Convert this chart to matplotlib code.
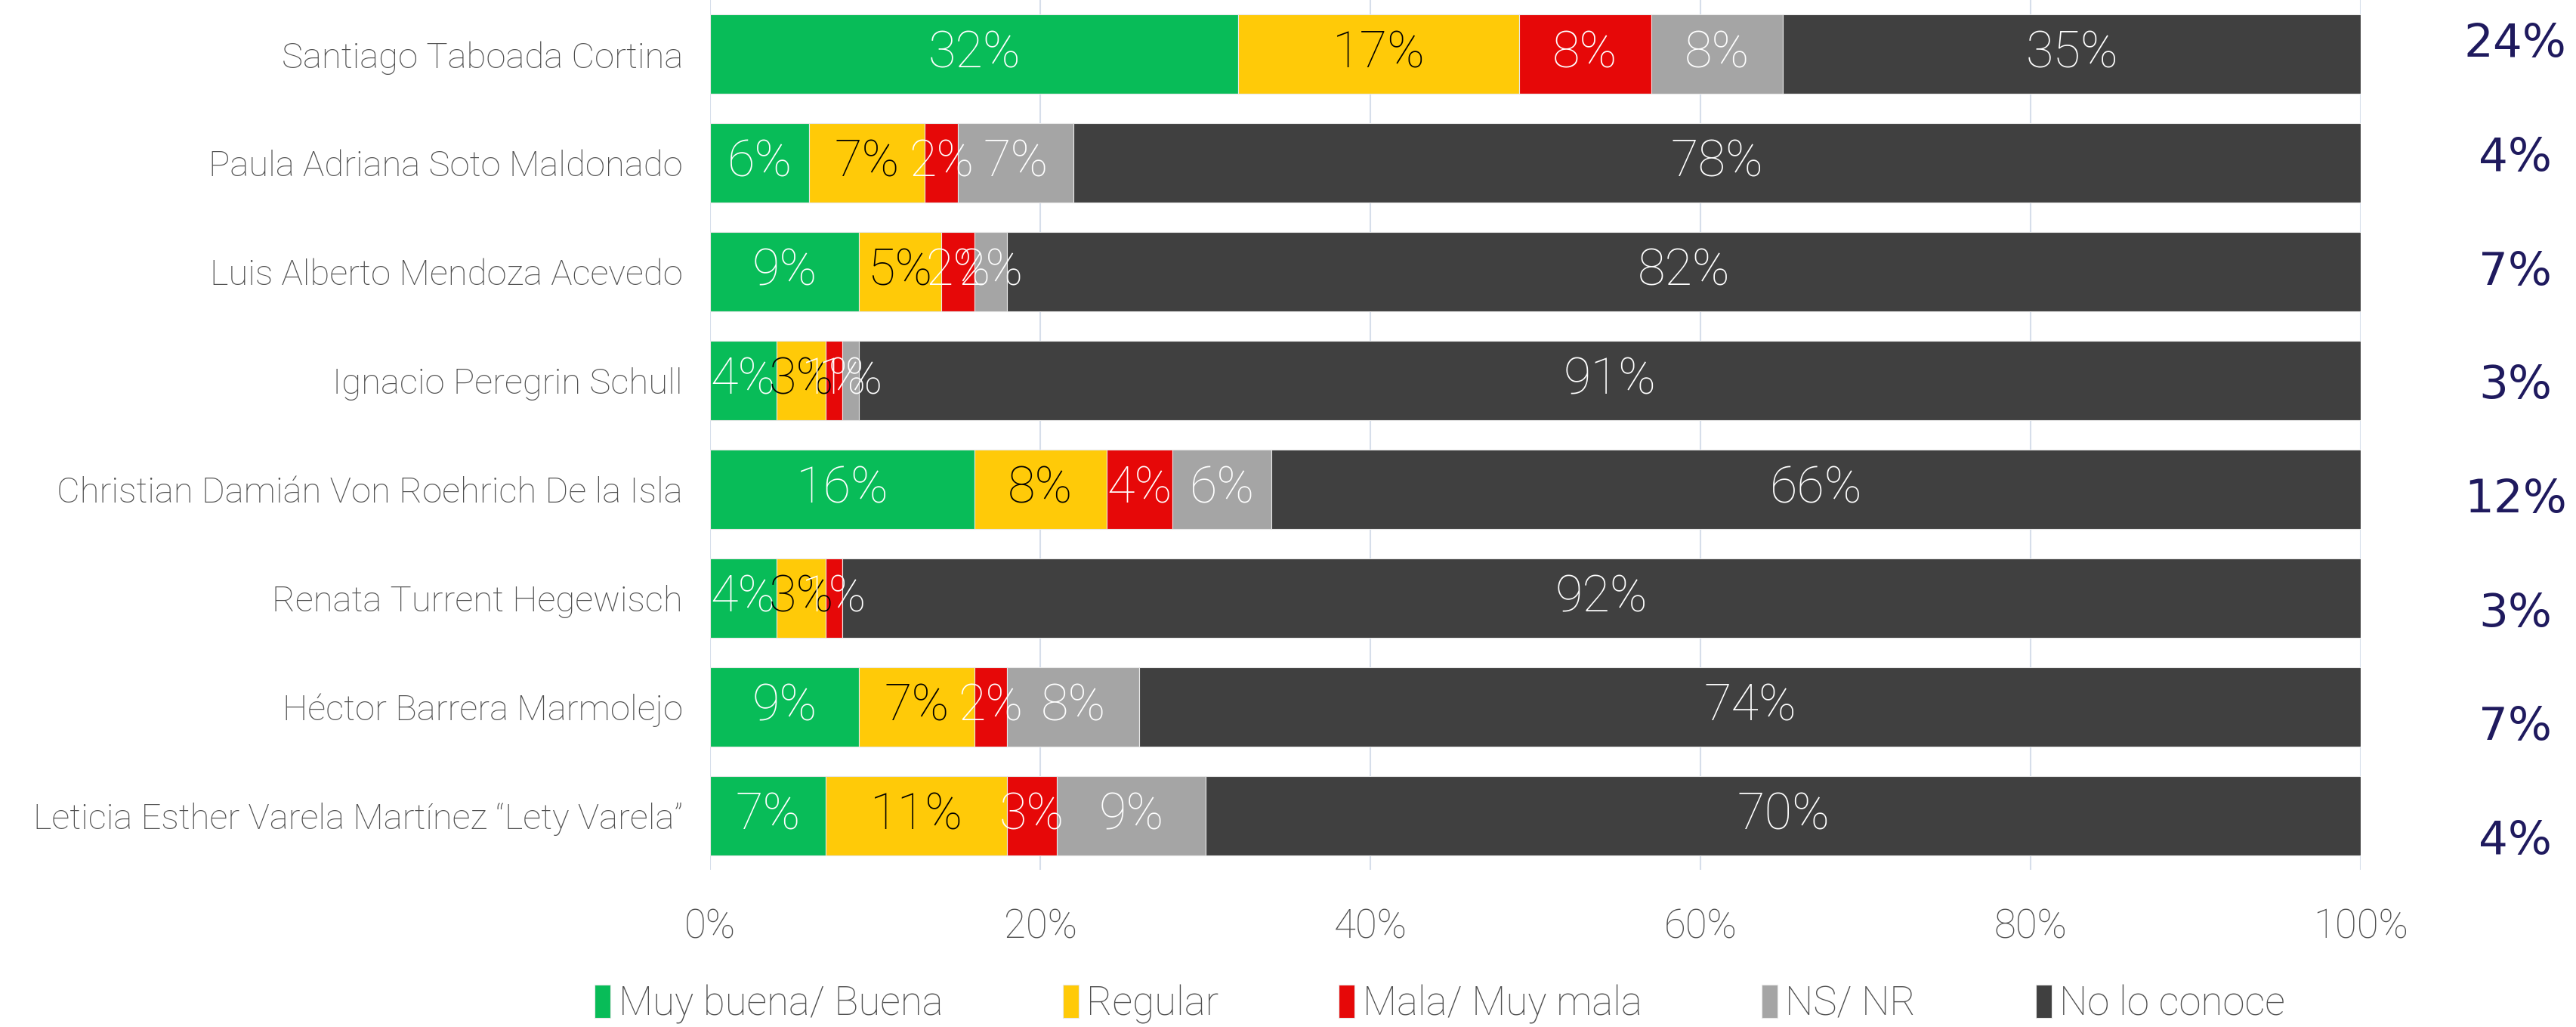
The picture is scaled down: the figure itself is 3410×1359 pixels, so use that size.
import numpy as np
import matplotlib.pyplot as plt

plt.rcParams['font.family'] = ['Roboto', 'DejaVu Sans']

# candidatos y porcentajes de opinión
candidatos = ['Santiago Taboada Cortina',
              'Paula Adriana Soto Maldonado',
              'Luis Alberto Mendoza Acevedo',
              'Ignacio Peregrin Schull',
              'Christian Damián Von Roehrich De la Isla',
              'Renata Turrent Hegewisch',
              'Héctor Barrera Marmolejo',
              'Leticia Esther Varela Martínez “Lety Varela”']
buena = [32, 6, 9, 4, 16, 4, 9, 7]
regular = [17, 7, 5, 3, 8, 3, 7, 11]
mala = [8, 2, 2, 1, 4, 1, 2, 3]
ns_nr = [8, 7, 2, 1, 6, 0, 8, 9]
no_conoce = [35, 78, 82, 91, 66, 92, 74, 70]
derecha = [24, 4, 7, 3, 12, 3, 7, 4]

series = ['Muy buena/ Buena', 'Regular', 'Mala/ Muy mala', 'NS/ NR', 'No lo conoce']
colores = ['#08BC58', '#FFCA08', '#E60808', '#A5A5A5', '#404040']
color_texto = ['white', 'black', 'white', 'white', 'white']

datos = [buena, regular, mala, ns_nr, no_conoce]

fig = plt.figure(figsize=(34.1, 13.59), dpi=100)
ax = fig.add_axes([0.2757, 0.153, 0.6408, 0.847])

y = np.arange(len(candidatos))
left = np.zeros(len(candidatos))
for vals, nombre, col, tcol in zip(datos, series, colores, color_texto):
    vals = np.array(vals, dtype=float)
    ax.barh(y, vals, left=left, height=0.73, color=col, label=nombre,
            edgecolor='#E8E8E8', linewidth=0.8, zorder=3)
    for yi, (l, v) in enumerate(zip(left, vals)):
        if v > 0:
            ax.text(l + v / 2, yi, '{:.0f}%'.format(v), ha='center', va='center',
                    color=tcol, fontsize=48, fontweight='light', zorder=4)
    left += vals

ax.set_xlim(0, 100)
ax.set_ylim(len(candidatos) - 0.5, -0.5)
ax.set_yticks(y)
ax.set_yticklabels(candidatos, fontsize=34, color='#505050', fontweight='light')
ax.set_xticks(np.arange(0, 101, 20))
ax.set_xticklabels(['{}%'.format(t) for t in range(0, 101, 20)],
                   fontsize=38, color='#505050', fontweight='light')
ax.tick_params(axis='y', length=0, pad=26)
ax.tick_params(axis='x', length=0, pad=36)
ax.grid(axis='x', color='#D6DEEA', linewidth=1.5, zorder=0)
for s in ax.spines.values():
    s.set_visible(False)

# columna derecha
for i, v in enumerate(derecha):
    fig.text(0.9765, 1 - (59 + i * 150.6) / 1359, '{}%'.format(v), ha='center',
             va='center', fontsize=44, color='#1F1A5E', family='DejaVu Sans')

leg = fig.legend(loc='center', bbox_to_anchor=(0.559, 0.022), ncol=5, frameon=False,
                 fontsize=38, handlelength=0.4, handleheight=0.9,
                 handletextpad=0.2, columnspacing=3.0)
for t in leg.get_texts():
    t.set_color('#505050')
    t.set_fontweight('light')

plt.savefig('out.png', dpi=100)
